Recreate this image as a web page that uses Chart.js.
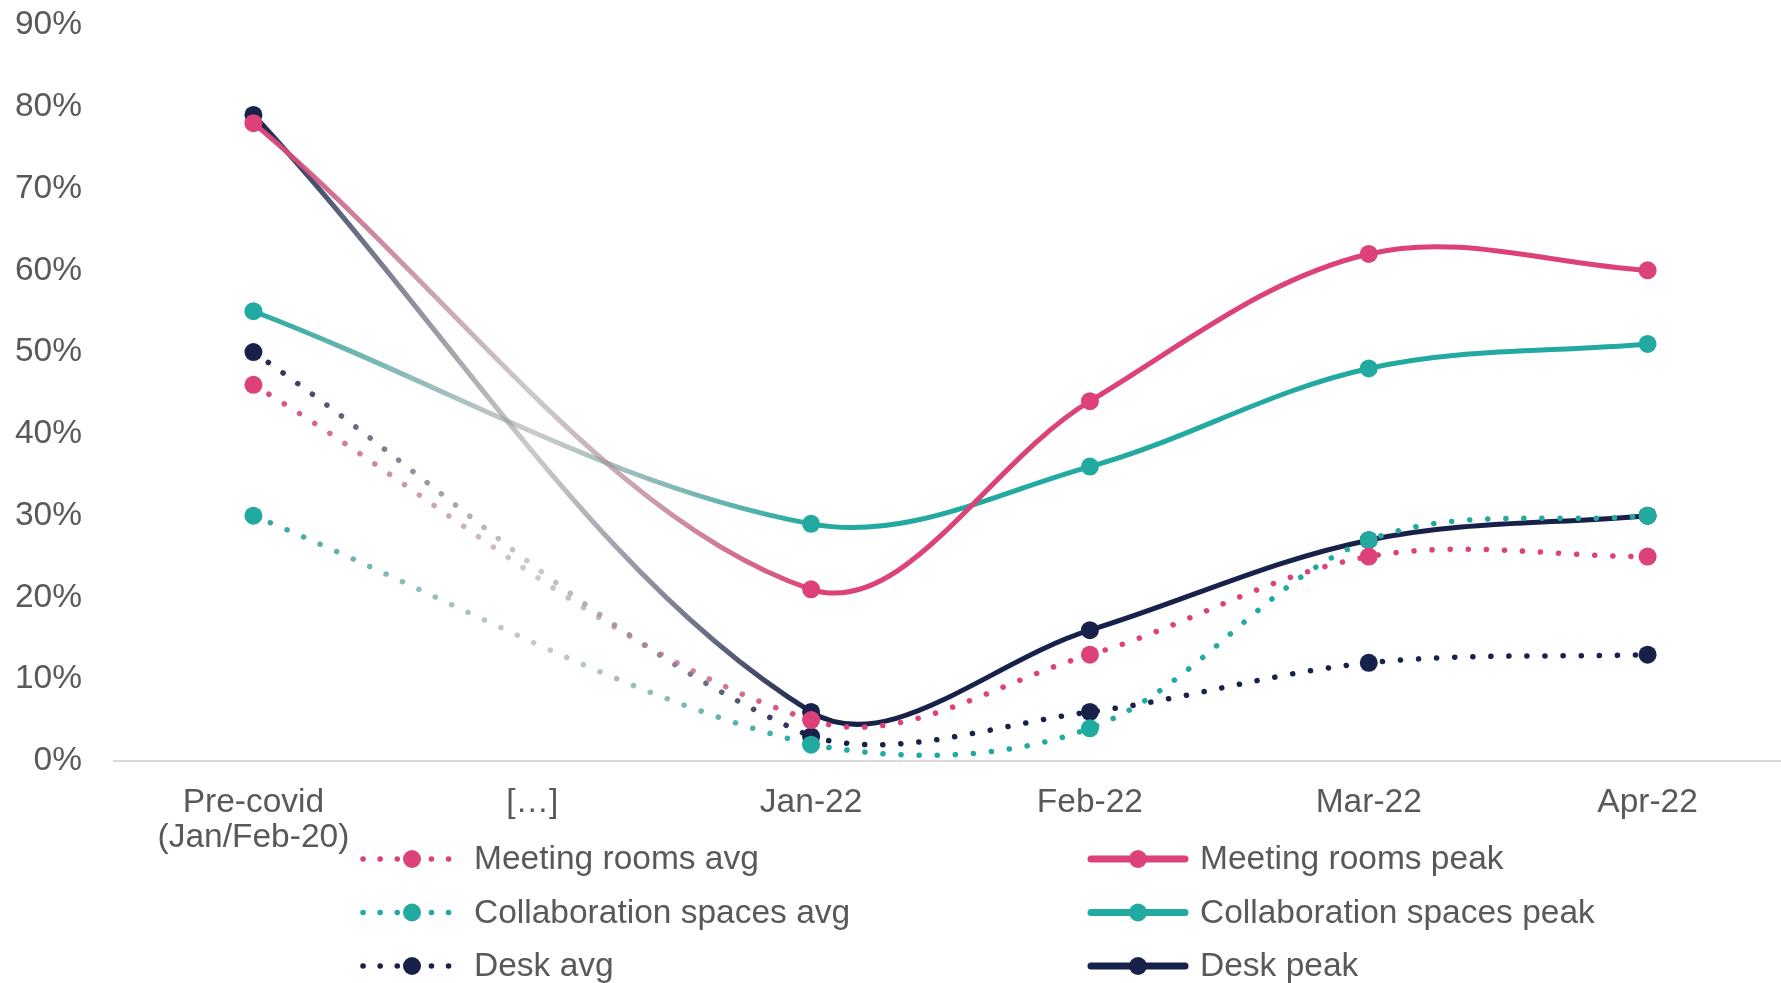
<!DOCTYPE html>
<html>
<head>
<meta charset="utf-8">
<script src="https://cdn.jsdelivr.net/npm/chart.js@4.4.1/dist/chart.umd.min.js"></script>
<style>
  html, body { margin: 0; padding: 0; background: #fff; overflow: hidden; }
  /* plot runs slightly past the right edge, as in the original */
  #wrap { width: 1787px; height: 983px; }
</style>
</head>
<body>
<div id="wrap"><canvas id="occupancyChart"></canvas></div>
<script>
// ==========================================
// DATA (in %)
// ==========================================
const categories = [["Pre-covid", "(Jan/Feb-20)"], "[…]", "Jan-22", "Feb-22", "Mar-22", "Apr-22"];
const meetingAvg  = [46, null, 5, 13, 25, 25];
const meetingPeak = [78, null, 21, 44, 62, 60];
const collabAvg   = [30, null, 2, 4, 27, 30];
const collabPeak  = [55, null, 29, 36, 48, 51];
const deskAvg     = [50, null, 3, 6, 12, 13];
const deskPeak    = [79, null, 6, 16, 27, 30];
const yMin = 0, yMax = 90, yStep = 10;

// colours
const PINK = '#DC4279';
const TEAL = '#22AAA1';
const NAVY = '#17214A';
const TEXT = '#595959';
const FONT = "'Liberation Sans', Arial, sans-serif";
const FONT_SIZE = 33.5;

// the stretch across the "[…]" gap (index 0 -> 2) fades to grey in the middle
function fadeAcrossGap(color) {
    return function(ctx) {
        if (ctx.p1DataIndex > 2) return undefined;
        const xs = ctx.chart.scales.x;
        const g = ctx.chart.ctx.createLinearGradient(xs.getPixelForValue(0), 0, xs.getPixelForValue(2), 0);
        g.addColorStop(0, color);
        g.addColorStop(0.5, 'rgba(160,160,160,0.55)');
        g.addColorStop(1, color);
        return g;
    };
}

function makeSeries(label, data, color, dotted) {
    return {
        label: label,
        data: data,
        borderColor: color,
        backgroundColor: color,
        pointBackgroundColor: color,
        pointBorderWidth: 0,
        pointRadius: 9,
        borderWidth: dotted ? 5.5 : 5,
        borderDash: dotted ? [0.1, 18] : [],
        borderCapStyle: 'round',
        tension: 0.35,
        spanGaps: true,
        fill: false,
        clip: false,
        segment: { borderColor: fadeAcrossGap(color) }
    };
}

// custom two-column legend drawn on the canvas
const gridLegend = {
    id: 'gridLegend',
    afterDraw(chart) {
        const c = chart.ctx;
        chart.data.datasets.forEach((ds, i) => {
            const col = i % 2, row = Math.floor(i / 2);
            const x0 = col ? 1087 : 361;
            const y = 859 + row * 53.5;
            c.save();
            c.strokeStyle = ds.borderColor;
            c.lineCap = 'round';
            if (ds.borderDash.length) {
                c.lineWidth = ds.borderWidth;
                c.setLineDash([0.1, 17]);
                c.beginPath(); c.moveTo(x0 + 2, y); c.lineTo(x0 + 102, y); c.stroke();
            } else {
                c.lineWidth = 7;
                c.beginPath(); c.moveTo(x0 + 4, y); c.lineTo(x0 + 98, y); c.stroke();
            }
            c.setLineDash([]);
            c.fillStyle = ds.pointBackgroundColor;
            c.beginPath(); c.arc(x0 + 51, y, 9, 0, Math.PI * 2); c.fill();
            c.fillStyle = TEXT;
            c.font = FONT_SIZE + 'px ' + FONT;
            c.textBaseline = 'middle';
            c.textAlign = 'left';
            c.fillText(ds.label, x0 + 113, y + 1);
            c.restore();
        });
    }
};

const chart = new Chart(document.getElementById('occupancyChart'), {
    type: 'line',
    data: {
        labels: categories,
        datasets: [
            makeSeries('Meeting rooms avg', meetingAvg, PINK, true),
            makeSeries('Meeting rooms peak', meetingPeak, PINK, false),
            makeSeries('Collaboration spaces avg', collabAvg, TEAL, true),
            makeSeries('Collaboration spaces peak', collabPeak, TEAL, false),
            makeSeries('Desk avg', deskAvg, NAVY, true),
            makeSeries('Desk peak', deskPeak, NAVY, false)
        ]
    },
    options: {
        responsive: true,
        maintainAspectRatio: false,
        animation: false,
        layout: { autoPadding: false, padding: { top: 25, left: 0, right: 0, bottom: 0 } },
        plugins: {
            legend: { display: false },
            tooltip: { enabled: false }
        },
        scales: {
            x: {
                offset: true,
                grid: { display: false, drawTicks: false },
                border: { display: true, color: '#D9D9D9', width: 2 },
                ticks: {
                    color: TEXT,
                    font: { family: FONT, size: FONT_SIZE, lineHeight: 1.05 },
                    padding: 24,
                    maxRotation: 0,
                    autoSkip: false
                },
                afterFit: function(scale) {
                    scale.height = 222;
                    scale.paddingLeft = 0;
                    scale.paddingRight = 0;
                }
            },
            y: {
                min: yMin,
                max: yMax,
                grid: { display: false, drawTicks: false },
                border: { display: false },
                ticks: {
                    stepSize: yStep,
                    color: TEXT,
                    font: { family: FONT, size: FONT_SIZE },
                    padding: 32,
                    callback: v => v + '%'
                },
                afterFit: function(scale) {
                    scale.width = 114;
                    scale.paddingTop = 0;
                    scale.paddingBottom = 0;
                }
            }
        }
    },
    plugins: [gridLegend]
});
</script>
</body>
</html>
